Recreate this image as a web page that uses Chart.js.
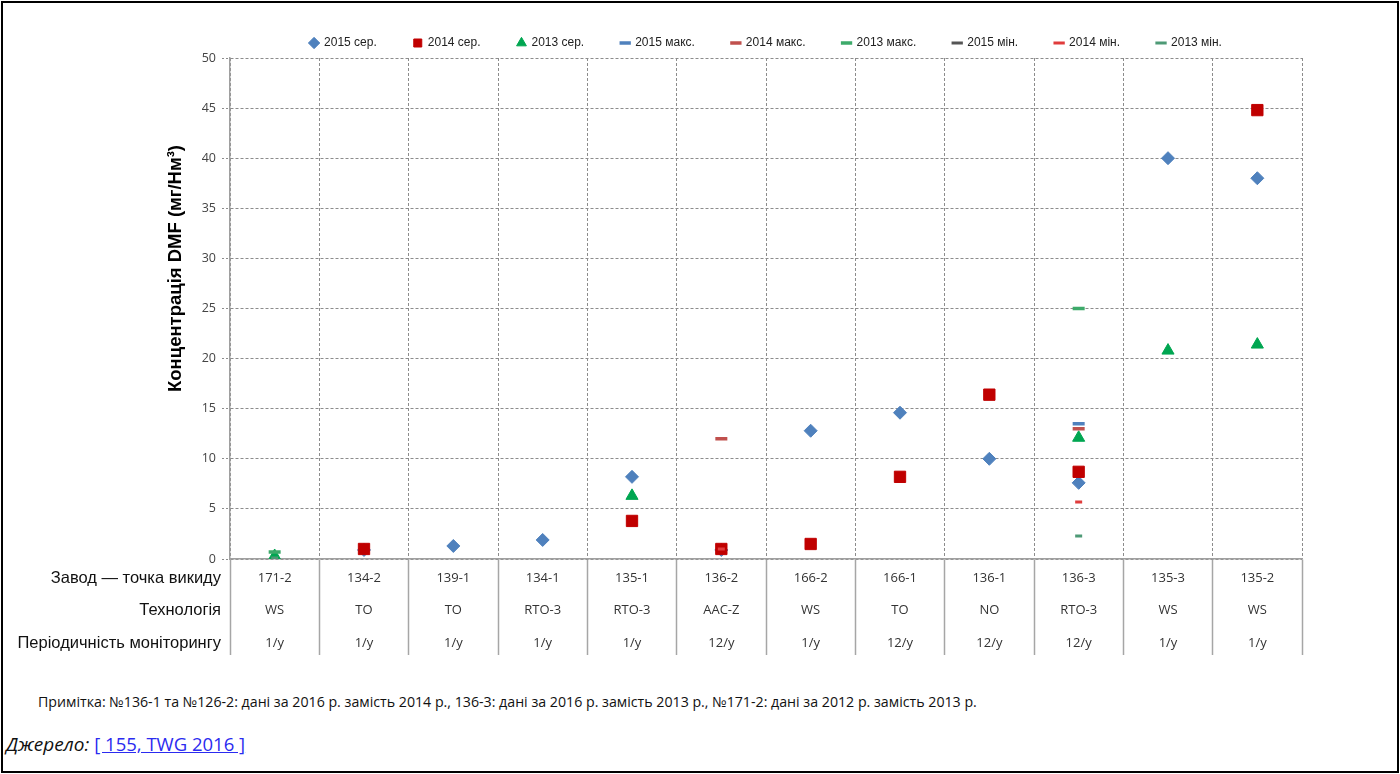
<!DOCTYPE html>
<html>
<head>
<meta charset="utf-8">
<script src="https://cdn.jsdelivr.net/npm/chart.js@4.4.0/dist/chart.umd.min.js"></script>
<style>
    body { margin: 0; background: #fff; }
    .page { position: relative; width: 1400px; height: 774px; overflow: hidden; }
    .frame { position: absolute; left: 1px; top: 1px; width: 1394px; height: 768px; border: 2px solid #000; }
    #chart { position: absolute; left: 0; top: 0; }
    .note { position: absolute; left: 38px; top: 692px; font: 14.2px "Open Sans", sans-serif; color: #111; }
    .source { position: absolute; left: 6px; top: 731px; font: italic 19px "Open Sans", sans-serif; color: #111; }
    .source a { color: #2b2bf0; text-decoration: underline; font-style: normal; font-size: 18.5px; }
</style>
</head>
<body>
<div class="page">
    <div class="frame"></div>
    <canvas id="chart" width="1400" height="680"></canvas>
    <div class="note">Примітка: №136-1 та №126-2: дані за 2016 р. замість 2014 р., 136-3: дані за 2016 р. замість 2013 р., №171-2: дані за 2012 р. замість 2013 р.</div>
    <div class="source">Джерело: <a href="#">[ 155, TWG 2016 ]</a></div>
</div>
<script>
// категорії (завод — точка викиду) та рядки таблиці під віссю
const plants = ['171-2', '134-2', '139-1', '134-1', '135-1', '136-2', '166-2', '166-1', '136-1', '136-3', '135-3', '135-2'];
const techs = ['WS', 'TO', 'TO', 'RTO-3', 'RTO-3', 'AAC-Z', 'WS', 'TO', 'NO', 'RTO-3', 'WS', 'WS'];
const freqs = ['1/y', '1/y', '1/y', '1/y', '1/y', '12/y', '1/y', '12/y', '12/y', '12/y', '1/y', '1/y'];
const rowLabels = ['Завод — точка викиду', 'Технологія', 'Періодичність моніторингу'];
const yTitle = 'Концентрація DMF (мг/Нм³)';

// значення, мг/Нм³
const avg2015 = [null, 0.9, 1.3, 1.9, 8.2, 0.9, 12.8, 14.6, 10.0, 7.6, 40.0, 38.0];
const avg2014 = [null, 1.0, null, null, 3.8, 1.0, 1.5, 8.2, 16.4, 8.7, null, 44.8];
const avg2013 = [0.3, null, null, null, 6.3, null, null, null, null, 12.1, 20.8, 21.4];
const max2015 = [null, null, null, null, null, null, null, null, null, 13.5, null, null];
const max2014 = [null, null, null, null, null, 12.0, null, null, null, 13.0, null, null];
const max2013 = [0.7, null, null, null, null, null, null, null, null, 25.0, null, null];
const min2015 = [null, null, null, null, null, null, null, null, null, null, null, null];
const min2014 = [null, null, null, null, null, 1.0, null, null, null, 5.7, null, null];
const min2013 = [0.1, null, null, null, null, null, null, null, null, 2.3, null, null];

const yMin = 0, yMax = 50, yStep = 5;

function series(label, data, style, color, radius, border) {
    return {
        label: label,
        data: data,
        showLine: false,
        pointStyle: style,
        pointRadius: radius,
        pointHoverRadius: radius,
        backgroundColor: color,
        borderColor: color,
        borderWidth: border,
        pointBorderWidth: border
    };
}

const datasets = [
    series('2015 сер.', avg2015, 'rectRot', '#4f81bd', 6.5, 1),
    series('2014 сер.', avg2014, 'rect', '#c00000', 8, 1),
    series('2013 сер.', avg2013, 'triangle', '#00a651', 7, 1),
    series('2015 макс.', max2015, 'line', '#4f81bd', 6, 3.5),
    series('2014 макс.', max2014, 'line', '#c0504d', 6, 3.5),
    series('2013 макс.', max2013, 'line', '#3daa6a', 6, 3.5),
    series('2015 мін.', min2015, 'line', '#555555', 3.5, 3),
    series('2014 мін.', min2014, 'line', '#e03c3c', 3.5, 3),
    series('2013 мін.', min2013, 'line', '#4e9a76', 3.5, 3)
];
// пізніші серії малюються поверх, як в Excel
datasets.forEach((d, i) => { d.order = datasets.length - i; });

const rowLineHeight = 32.5;
const tableDepth = 96;

// підписи рядків таблиці та назва осі Y
const tableLabels = {
    id: 'tableLabels',
    afterDraw(chart) {
        const {ctx, chartArea} = chart;
        const x = chart.scales.x;
        const y0 = chartArea.bottom + tableDepth + x.options.ticks.padding + rowLineHeight / 2;
        ctx.save();
        ctx.font = '16.5px "Liberation Sans", Arial, sans-serif';
        ctx.fillStyle = '#111';
        ctx.textAlign = 'right';
        ctx.textBaseline = 'middle';
        rowLabels.forEach((t, i) => ctx.fillText(t, chartArea.left - 9, y0 + i * rowLineHeight));

        ctx.translate(chartArea.left - 54, (chartArea.top + chartArea.bottom) / 2 - 40);
        ctx.rotate(-Math.PI / 2);
        ctx.font = 'bold 18.5px "Liberation Sans", Arial, sans-serif';
        ctx.textAlign = 'center';
        ctx.fillStyle = '#000';
        ctx.fillText(yTitle, 0, 0);
        ctx.restore();
    }
};

new Chart(document.getElementById('chart'), {
    type: 'line',
    data: {
        labels: plants.map((p, i) => [p, techs[i], freqs[i]]),
        datasets: datasets
    },
    options: {
        responsive: false,
        animation: false,
        devicePixelRatio: 1,
        layout: { padding: { left: 0, right: 98, top: 0, bottom: 0 } },
        plugins: {
            tooltip: { enabled: false },
            legend: {
                position: 'top',
                fullSize: false,
                maxHeight: 58,
                labels: {
                    usePointStyle: true,
                    boxWidth: 8,
                    boxHeight: 8,
                    padding: 37,
                    color: '#222',
                    font: { family: '"Liberation Sans", Arial, sans-serif', size: 12 },
                    sort: (a, b) => a.datasetIndex - b.datasetIndex
                }
            }
        },
        scales: {
            x: {
                offset: true,
                afterFit: s => { s.height = 121; },
                grid: {
                    offset: true,
                    color: '#8c8c8c',
                    lineWidth: 1,
                    drawTicks: true,
                    tickLength: tableDepth,
                    tickColor: '#a6a6a6',
                    tickWidth: 1.5,
                    tickBorderDash: []
                },
                border: { display: true, color: '#a0a0a0', width: 1.5, dash: [3, 2] },
                ticks: {
                    autoSkip: false,
                    maxRotation: 0,
                    padding: -93,
                    color: '#333',
                    font: { family: '"Open Sans", sans-serif', size: 13, lineHeight: rowLineHeight + 'px' }
                }
            },
            y: {
                min: yMin,
                max: yMax,
                afterFit: s => { s.width = 230; },
                grid: {
                    color: '#8c8c8c',
                    lineWidth: 1,
                    drawTicks: true,
                    tickLength: 8,
                    tickColor: '#8c8c8c',
                    tickBorderDash: [2, 2]
                },
                border: { display: true, color: '#a0a0a0', width: 1.5, dash: [3, 2] },
                ticks: {
                    stepSize: yStep,
                    padding: 6,
                    color: '#444',
                    font: { family: '"Open Sans", sans-serif', size: 12.5 }
                }
            }
        }
    },
    plugins: [tableLabels]
});
</script>
</body>
</html>
